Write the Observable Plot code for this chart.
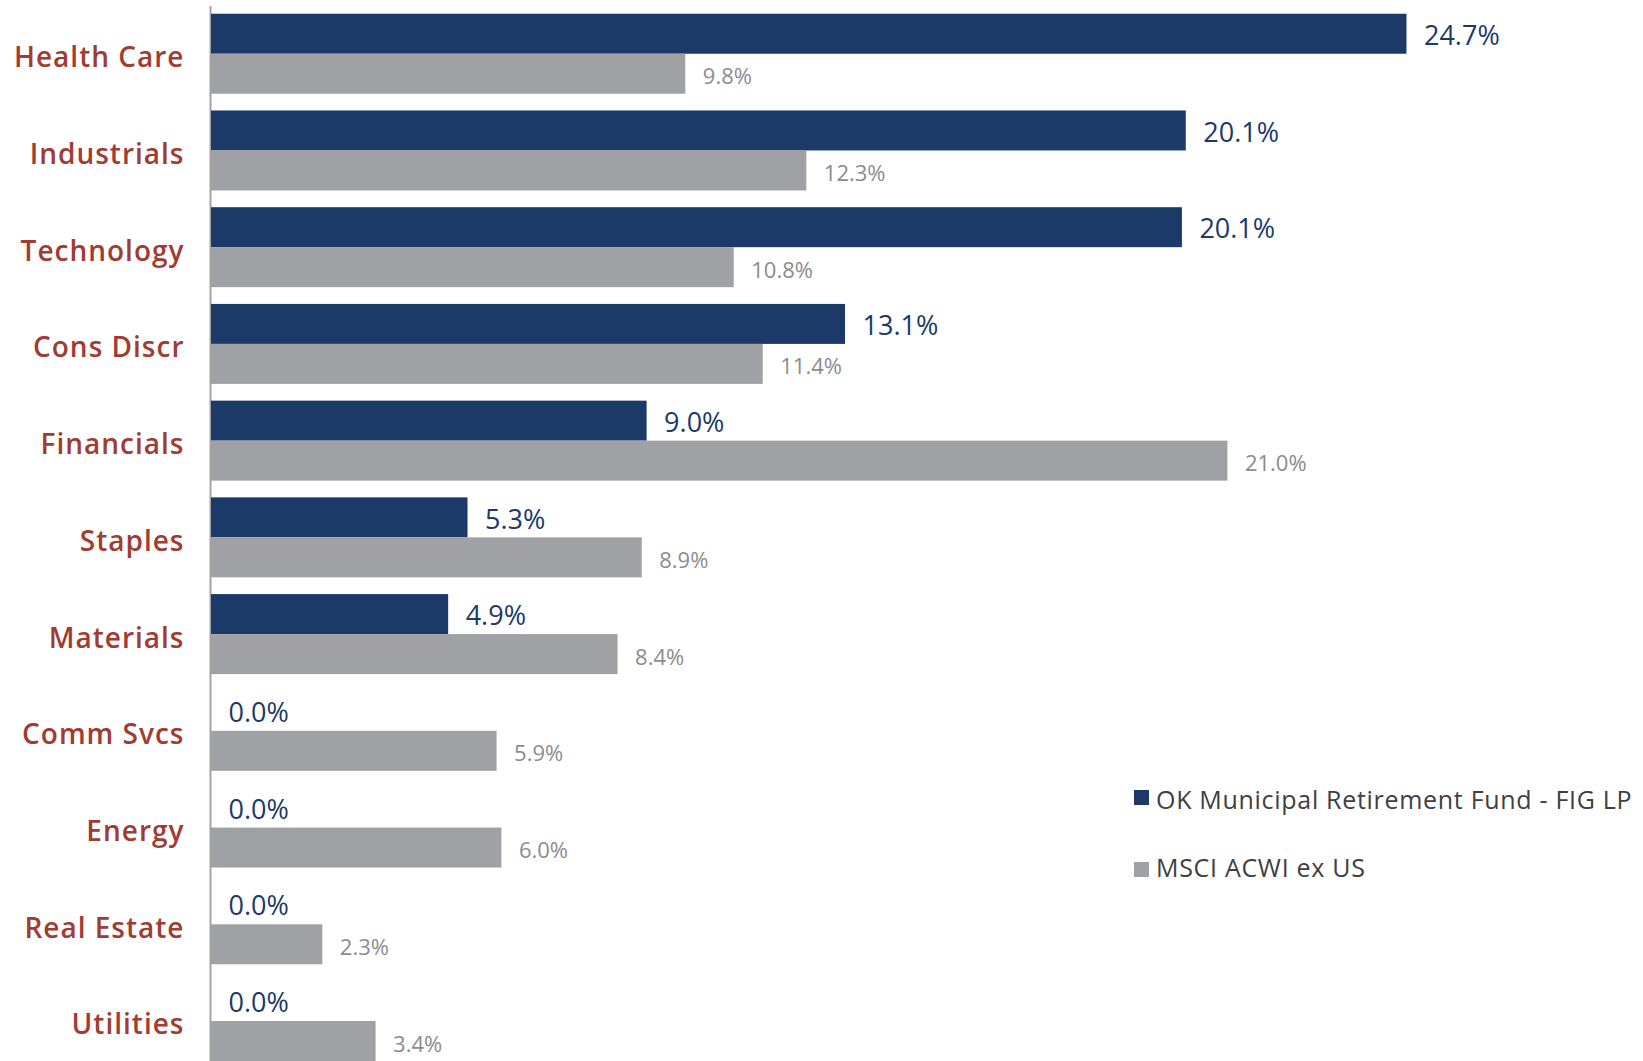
<!DOCTYPE html>
<html>
<head>
<meta charset="utf-8">
<script src="https://cdn.jsdelivr.net/npm/d3@7"></script>
<script src="https://cdn.jsdelivr.net/npm/@observablehq/plot@0.6"></script>
<style>
  html, body { margin: 0; padding: 0; background: #fff; }
  #wrap { position: relative; width: 1643px; height: 1061px; overflow: hidden; font-family: "Open Sans", Lato, sans-serif; }
  .sq { position: absolute; width: 15px; height: 15px; }
  .lt { position: absolute; font-size: 25px; line-height: 25px; color: #404040; white-space: nowrap; letter-spacing: 0.7px; }
</style>
</head>
<body>
<div id="wrap"></div>
<script>
const categories = ["Health Care","Industrials","Technology","Cons Discr","Financials","Staples","Materials","Comm Svcs","Energy","Real Estate","Utilities"];
const fundValues = [24.7, 20.14, 20.06, 13.1, 9.0, 5.3, 4.9, 0.0, 0.0, 0.0, 0.0];
const indexValues = [9.8, 12.3, 10.8, 11.4, 21.0, 8.9, 8.4, 5.9, 6.0, 2.3, 3.4];
const seriesNames = ["OK Municipal Retirement Fund - FIG LP", "MSCI ACWI ex US"];
const seriesColors = ["#1b3a68", "#a0a1a5"];
const labelColors = ["#1b3a68", "#8c8c8e"];
const categoryColor = "#a03c32";

const fund = categories.map((c, i) => ({category: c, value: fundValues[i]}));
const index = categories.map((c, i) => ({category: c, value: indexValues[i]}));
const fmt = d => d.value.toFixed(1) + "%";

const plot = Plot.plot({
  width: 1643,
  height: 1061,
  marginLeft: 211,
  marginRight: 222,
  marginTop: 6,
  marginBottom: 0,
  style: {fontFamily: "'Open Sans', Lato, sans-serif", background: "transparent"},
  x: {domain: [0, 25], axis: null},
  y: {domain: categories, axis: null, paddingInner: 0.173, paddingOuter: 0.04, align: 1, round: false},
  marks: [
    Plot.ruleX([0], {stroke: "#a3a3a3", strokeWidth: 2, dx: -1}),
    Plot.barX(fund, {x: "value", y: "category", fill: seriesColors[0], insetBottom: 40, insetTop: 0, insetLeft: 0, insetRight: 0}),
    Plot.barX(index, {x: "value", y: "category", fill: seriesColors[1], insetTop: 40, insetBottom: 0, insetLeft: 0, insetRight: 0}),
    Plot.text(fund, {x: "value", y: "category", text: fmt, dx: 17, dy: -18, textAnchor: "start", fill: labelColors[0], fontSize: 27}),
    Plot.text(index, {x: "value", y: "category", text: fmt, dx: 17, dy: 23, textAnchor: "start", fill: labelColors[1], fontSize: 22}),
    Plot.text(categories, {y: d => d, text: d => d, frameAnchor: "left", dx: -27, dy: 4, textAnchor: "end", fill: categoryColor, fontSize: 28, fontWeight: 600})
  ]
});

// widen the category labels slightly (letter spacing)
const textGroups = d3.select(plot).selectAll('g[aria-label="text"]').nodes();
if (textGroups.length) d3.select(textGroups[textGroups.length - 1]).attr("letter-spacing", "1px");

const wrap = document.getElementById("wrap");
wrap.appendChild(plot);

// legend overlay
const legendRows = [{sqTop: 790, textTop: 787}, {sqTop: 862, textTop: 855}];
seriesNames.forEach((name, i) => {
  const sq = document.createElement("div");
  sq.className = "sq";
  sq.style.left = "1134px";
  sq.style.top = legendRows[i].sqTop + "px";
  sq.style.background = seriesColors[i];
  wrap.appendChild(sq);
  const t = document.createElement("div");
  t.className = "lt";
  t.style.left = "1156px";
  t.style.top = legendRows[i].textTop + "px";
  t.textContent = name;
  wrap.appendChild(t);
});
</script>
</body>
</html>
